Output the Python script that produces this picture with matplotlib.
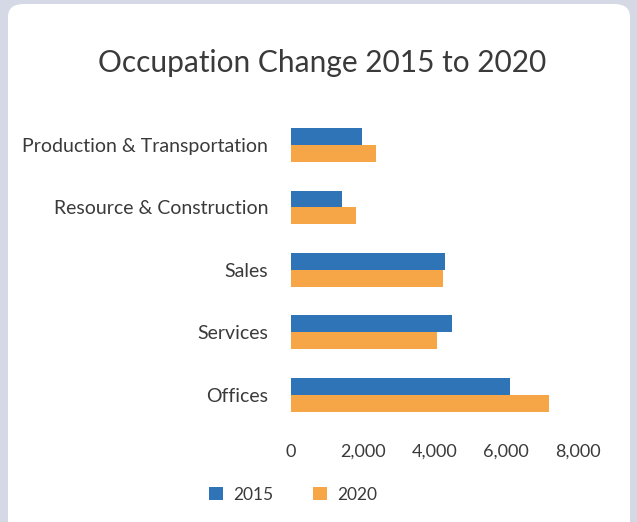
import matplotlib.pyplot as plt
import numpy as np
from matplotlib.patches import FancyBboxPatch

# datos
categorias = ["Offices", "Services", "Sales", "Resource & Construction",
              "Production & Transportation"]
valores_2015 = [6100, 4480, 4290, 1420, 1980]
valores_2020 = [7200, 4070, 4240, 1810, 2370]
ticks_x = [0, 2000, 4000, 6000, 8000]

azul = '#2f74b7'
naranja = '#f6a646'
texto = '#3a3a3a'

plt.rcParams['font.family'] = ['Lato', 'DejaVu Sans']

fig = plt.figure(figsize=(6.37, 5.22), dpi=100)
fig.patch.set_facecolor('#d5d9e5')

# tarjeta blanca de fondo
tarjeta = FancyBboxPatch((8 / 637, -0.1), 622 / 637, 1.1 - 4 / 522,
                         boxstyle="round,pad=0,rounding_size=0.025",
                         transform=fig.transFigure, facecolor='white',
                         edgecolor='none', zorder=-10)
fig.patches.append(tarjeta)

ax = fig.add_axes([0.457, 0.184, 0.450, 0.598])
ax.set_facecolor('none')

y = np.arange(len(categorias))
h = 0.27
ax.barh(y + h / 2, valores_2015, height=h, color=azul, label='2015')
ax.barh(y - h / 2, valores_2020, height=h, color=naranja, label='2020')

ax.set_xlim(0, 8000)
ax.set_ylim(-0.5, 4.5)
ax.set_xticks(ticks_x)
ax.set_xticklabels([f"{t:,}" for t in ticks_x], fontsize=13, color=texto)
ax.set_yticks(y)
ax.set_yticklabels(categorias, fontsize=14, color=texto)
ax.tick_params(length=0, pad=16.5, axis='y')
ax.tick_params(length=0, pad=13, axis='x')
for s in ax.spines.values():
    s.set_visible(False)

fig.text(0.505, 0.88, "Occupation Change 2015 to 2020", ha='center',
         va='center', fontsize=21.5, color=texto)

fig.legend(loc='center', bbox_to_anchor=(0.46, 0.052), ncol=2, frameon=False,
           fontsize=12.5, handlelength=0.8, handleheight=0.8,
           columnspacing=2.3, handletextpad=0.6, labelcolor=texto)

fig.savefig('out.png', dpi=100)
